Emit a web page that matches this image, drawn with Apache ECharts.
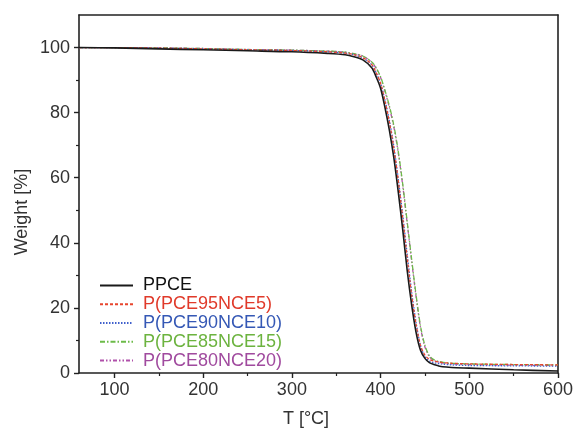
<!DOCTYPE html>
<html>
<head>
<meta charset="utf-8">
<script src="https://cdn.jsdelivr.net/npm/echarts@6/dist/echarts.min.js"></script>
<style>html,body{margin:0;padding:0;background:#fff}#c{width:576px;height:430px}</style>
</head>
<body>
<div id="c"></div>
<script>
const temps = [60,100,150,200,250,300,340,360,370,380,390,395,400,405,410,415,420,425,430,435,440,445,450,455,460,465,470,480,500,550,600];
const ppce   = [100,99.9,99.6,99.3,99.0,98.7,98.2,97.8,97.2,96.2,93.8,91,87.5,81.5,74.5,66,55.5,44,31.5,21,12.5,7,4.5,3.2,2.6,2.2,1.9,1.7,1.5,1.0,0.6];
const p95    = [100,100,99.8,99.6,99.3,99.1,98.7,98.3,97.8,96.9,94.8,92.3,89,83.5,77,69,59,47.5,35.5,24,15,8.5,5.5,4.2,3.7,3.4,3.2,3.0,2.8,2.6,2.5];
const p90    = [100,100,99.8,99.6,99.3,99.1,98.7,98.3,97.8,96.8,94.7,92.2,89,83.8,77.5,69.5,59.5,48.5,36.5,25,15.5,8.5,5,3.7,3.2,2.9,2.7,2.5,2.3,2.2,2.1];
const p85    = [100,100,99.9,99.7,99.4,99.2,98.9,98.6,98.1,97.4,95.6,93.8,91,86.8,82,76,68,58,46.5,35,24,14.5,8.5,5.3,4.1,3.6,3.3,3.0,2.8,2.6,2.5];
const p80    = [100,100,99.9,99.7,99.4,99.2,98.9,98.6,98.1,97.4,95.5,93.6,90.8,86.5,81.5,75.5,67.5,57.5,46,34.5,23.5,14,8,5,3.9,3.4,3.1,2.8,2.6,2.4,2.3];
const seriesNames = ['PPCE','P(PCE95NCE5)','P(PCE90NCE10)','P(PCE85NCE15)','P(PCE80NCE20)'];
const xTicks = [100,200,300,400,500,600];
const xMinor = [150,250,350,450,550];
const yTicks = [0,20,40,60,80,100];
const yMinor = [10,30,50,70,90];

const values = [ppce,p95,p90,p85,p80];
const lineColors = ['#1a1a1a','#e8462e','#4060cc','#6cbb48','#b050aa'];
const textColors = ['#111111','#e03a2a','#3558b5','#6cb33f','#a04a9e'];
const dashes = ['solid',[3,2],[1.5,1.5],[5,2,1.5,2],[4,2,1.5,2,1.5,2]];
const widths = [1.6,1.3,1.3,1.3,1.3];

const font = 'Liberation Sans, Arial, Helvetica, sans-serif';
const axisColor = '#222';

const chart = echarts.init(document.getElementById('c'), null, {renderer:'canvas'});
chart.setOption({
  animation:false,
  backgroundColor:'#fff',
  grid:{left:79,right:16,top:15,bottom:57},
  legend:{
    orient:'vertical', left:94, top:271,
    itemWidth:33, itemHeight:10, itemGap:0,
    itemStyle:{opacity:0},
    textStyle:{fontFamily:font,fontSize:18,lineHeight:18.8,padding:[0,0,0,5]},
    data: seriesNames.map((n,i)=>({name:n,textStyle:{color:textColors[i]}}))
  },
  xAxis:[
    {type:'value',min:60,max:600,position:'bottom',
     axisLine:{show:true,onZero:false,lineStyle:{color:axisColor,width:1.6}},
     axisTick:{show:true,inside:false,length:5,customValues:xTicks,lineStyle:{color:axisColor,width:1.4}},
     axisLabel:{customValues:xTicks,margin:8,fontFamily:font,fontSize:18,color:'#333'},
     splitLine:{show:false}},
    {type:'value',min:60,max:600,position:'bottom',
     axisLine:{show:false},
     axisTick:{show:true,inside:false,length:3,customValues:xMinor,lineStyle:{color:axisColor,width:1.2}},
     axisLabel:{show:false},splitLine:{show:false}},
    {type:'value',min:60,max:600,position:'top',
     axisLine:{show:true,onZero:false,lineStyle:{color:axisColor,width:1.6}},
     axisTick:{show:false},axisLabel:{show:false},splitLine:{show:false}}
  ],
  yAxis:[
    {type:'value',min:0,max:110,position:'left',
     axisLine:{show:true,onZero:false,lineStyle:{color:axisColor,width:1.6}},
     axisTick:{show:true,inside:false,length:5,customValues:yTicks,lineStyle:{color:axisColor,width:1.4}},
     axisLabel:{customValues:yTicks,margin:9,fontFamily:font,fontSize:18,color:'#333'},
     splitLine:{show:false}},
    {type:'value',min:0,max:110,position:'left',
     axisLine:{show:false},
     axisTick:{show:true,inside:false,length:3,customValues:yMinor,lineStyle:{color:axisColor,width:1.2}},
     axisLabel:{show:false},splitLine:{show:false}},
    {type:'value',min:0,max:110,position:'right',
     axisLine:{show:true,onZero:false,lineStyle:{color:axisColor,width:1.6}},
     axisTick:{show:false},axisLabel:{show:false},splitLine:{show:false}}
  ],
  graphic:[
    {type:'text',x:22,y:212,rotation:Math.PI/2,
     style:{text:'Weight [%]',fontFamily:font,fontSize:18,fill:'#333',align:'center',verticalAlign:'middle'}},
    {type:'text',x:306,y:419,
     style:{text:'T [°C]',fontFamily:font,fontSize:18,fill:'#333',align:'center',verticalAlign:'middle'}}
  ],
  series: seriesNames.map((n,i)=>({
    name:n,type:'line',xAxisIndex:0,yAxisIndex:0,
    smooth:0.3,symbol:'none',
    data: temps.map((t,j)=>[t,values[i][j]]),
    lineStyle:{color:lineColors[i],width:widths[i],type:dashes[i]},
    itemStyle:{color:lineColors[i]},
    z: 10-i
  }))
});
</script>
</body>
</html>
